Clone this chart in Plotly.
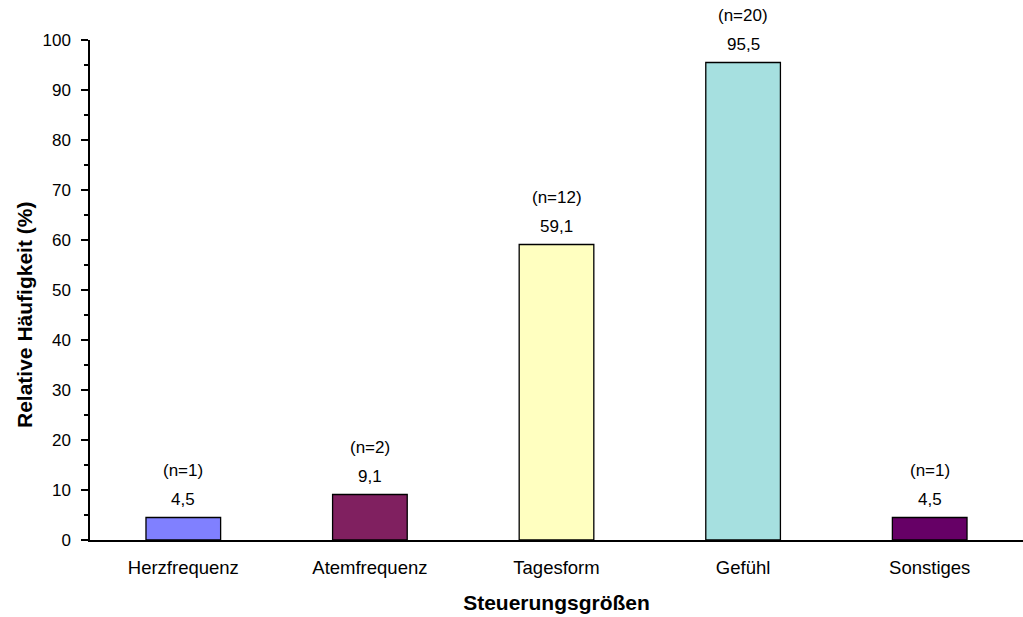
import plotly.graph_objects as go

categories = ["Herzfrequenz", "Atemfrequenz", "Tagesform", "Gefühl", "Sonstiges"]
percent = [4.5, 9.1, 59.1, 95.5, 4.5]
counts = [1, 2, 12, 20, 1]
bar_colors = ["#8080FF", "#802060", "#FFFFC0", "#A6E0E0", "#660066"]

FONT = "Liberation Sans, Arial, sans-serif"

fig = go.Figure(
    go.Bar(
        x=categories,
        y=percent,
        width=0.4,
        marker=dict(color=bar_colors, line=dict(color="#000000", width=1.3)),
        hoverinfo="skip",
    )
)

# value labels and sample sizes above each bar
for cat, val, n in zip(categories, percent, counts):
    fig.add_annotation(
        x=cat, y=val, xref="x", yref="y",
        text=f"{val:.1f}".replace(".", ","),
        showarrow=False, yshift=18,
        font=dict(family=FONT, size=17, color="#000000"),
    )
    fig.add_annotation(
        x=cat, y=val, xref="x", yref="y",
        text=f"(n={n})",
        showarrow=False, yshift=47,
        font=dict(family=FONT, size=17, color="#000000"),
    )

# vertical axis title, placed left of the tick labels
fig.add_annotation(
    xref="paper", yref="y",
    x=(24 - 90) / 933, y=45,
    xanchor="center", yanchor="middle",
    text="<b>Relative Häufigkeit (%)</b>",
    textangle=-90, showarrow=False,
    font=dict(family=FONT, size=21, color="#000000"),
)

fig.update_layout(
    width=1023, height=617,
    margin=dict(l=90, r=0, t=40, b=77),
    paper_bgcolor="#FFFFFF",
    plot_bgcolor="#FFFFFF",
    showlegend=False,
    font=dict(family=FONT, size=17, color="#000000"),
    bargap=0.6,
)

fig.update_xaxes(
    range=[-0.5, 4.5],
    showline=True, linecolor="#000000", linewidth=1.5,
    showgrid=False, zeroline=False,
    ticks="", ticklabelstandoff=10,
    tickfont=dict(family=FONT, size=18.5),
    title=dict(text="<b>Steuerungsgrößen</b>", font=dict(family=FONT, size=21), standoff=18),
)

fig.update_yaxes(
    range=[0, 100],
    dtick=10, tick0=0,
    showline=True, linecolor="#000000", linewidth=1.5,
    showgrid=False, zeroline=False,
    ticks="outside", ticklen=7, tickwidth=1.5, tickcolor="#000000",
    minor=dict(dtick=5, ticks="outside", ticklen=4, tickwidth=1.5, tickcolor="#000000", showgrid=False),
    ticklabelstandoff=7,
    tickfont=dict(family=FONT, size=17),
)

fig.write_html("out.html")
